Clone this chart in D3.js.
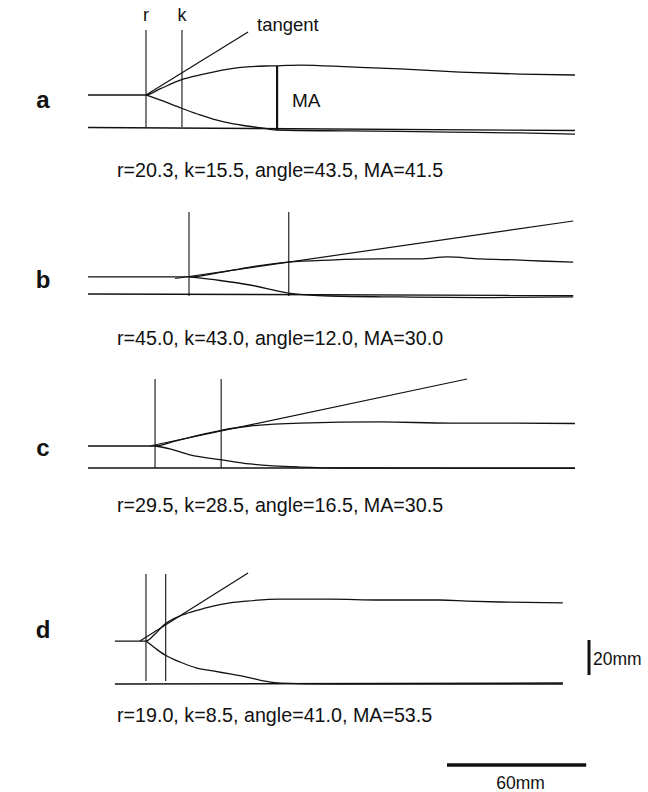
<!DOCTYPE html>
<html>
<head>
<meta charset="utf-8">
<script src="https://cdn.jsdelivr.net/npm/d3@7"></script>
<style>
  html, body { margin: 0; padding: 0; background: #fff; }
  svg { display: block; }
  text { font-family: "Liberation Sans", Arial, Helvetica, sans-serif; fill: #111; }
</style>
</head>
<body>
<svg id="chart" width="648" height="792"></svg>
<script>
// ---------------- DATA (time in mm of chart paper, amplitude in mm above baseline) ----------------
const panelNames = ["a", "b", "c", "d"];
const rValues = [20.3, 45.0, 29.5, 19.0];
const kValues = [15.5, 43.0, 28.5, 8.5];
const angleValues = [43.5, 12.0, 16.5, 41.0];
const maValues = [41.5, 30.0, 30.5, 53.5];

const upperA = [[-4.7,21.3],[20.3,21.3],[26.3,25.2],[35.4,31.0],[43.6,34.2],[49.2,36.1],[56.5,38.1],[63.8,39.4],[71.6,40.0],[76.8,40.1],[86.7,40.6],[108.2,39.4],[129.8,38.1],[155.6,36.1],[181.5,34.8],[205.2,34.2]];
const lowerA = [[20.3,21.3],[26.3,18.1],[35.4,12.9],[43.6,8.4],[49.2,5.8],[56.5,3.2],[63.8,1.3],[71.6,-0.3],[76.8,-1.3],[108.2,-1.9],[151.3,-2.6],[181.5,-3.2],[205.2,-3.9]];
const baseA = [[-4.7,0.3],[205.2,-1.6]];
const tangentA = [[20.3,21.3],[64.3,61.9]];

const upperB = [[1.5,11.0],[45.0,11.0],[58.4,13.9],[71.3,17.4],[87.8,20.6],[105.8,21.9],[127.4,22.6],[144.6,22.6],[156.3,23.9],[170.5,22.6],[187.8,21.9],[196.4,21.3],[210.6,20.6]];
const lowerB = [[45.0,11.0],[58.4,8.7],[71.3,5.8],[87.8,0.6],[105.8,-1.3],[136.0,-1.9],[170.5,-2.3],[210.6,-1.9]];
const baseB = [[1.5,0],[210.6,-1.0]];
const tangentB = [[39.0,10.0],[210.6,47.1]];

const upperC = [[0.6,14.2],[29.5,14.2],[38.1,17.4],[48.9,21.3],[58.4,24.5],[70.4,27.1],[92.0,29.0],[126.5,29.7],[156.6,29.0],[178.2,29.0],[210.5,28.7]];
const lowerC = [[29.5,14.2],[35.9,12.3],[44.6,8.4],[58.4,5.2],[70.4,2.6],[92.0,0.6],[113.5,0],[210.5,-0.3]];
const baseC = [[0.6,0],[210.5,0]];
const tangentC = [[27.3,14.2],[164.0,57.4]];

const upperD = [[5.6,27.7],[19.0,27.7],[22.9,32.3],[27.2,38.7],[33.7,43.9],[40.1,47.1],[47.9,50.3],[55.2,52.3],[62.5,53.5],[76.8,54.8],[98.3,54.8],[119.9,54.2],[145.7,54.2],[157.4,53.5],[171.6,52.9],[198.7,52.3]];
const lowerD = [[19.0,27.7],[22.9,23.2],[27.2,18.7],[33.7,14.2],[41.0,10.3],[47.9,8.4],[55.2,6.5],[62.5,4.5],[70.3,1.9],[76.8,0.6],[98.3,0],[198.7,0]];
const baseD = [[5.6,0],[198.7,0.6]];
const tangentD = [[16.4,27.7],[63.0,71.6]];

const maPosition = 76.8;          // time (mm) at which MA is marked in panel a
const scaleBarX = 60;             // mm
const scaleBarY = 20;             // mm

const upperSeries = [upperA, upperB, upperC, upperD];
const lowerSeries = [lowerA, lowerB, lowerC, lowerD];
const baseSeries = [baseA, baseB, baseC, baseD];
const tangentSeries = [tangentA, tangentB, tangentC, tangentD];

// ---------------- LAYOUT ----------------
const pxPerMmX = 2.32, pxPerMmY = 1.55, barPxPerMmY = 1.75;
const originX = [98.9, 84.6, 86.6, 101.9];
const baseY = [128, 294, 468, 684];
const markerTop = [30, 212, 379, 574];
const markerBottom = [127, 296, 468, 681];
const labelY = [108, 288, 456, 638];
const captionY = [177, 345, 512, 722];

const svg = d3.select("#chart");

panelNames.forEach((name, i) => {
  const x = d3.scaleLinear().domain([0, 100]).range([originX[i], originX[i] + 100 * pxPerMmX]);
  const y = d3.scaleLinear().domain([0, 100]).range([baseY[i], baseY[i] - 100 * pxPerMmY]);
  const line = d3.line().x(d => x(d[0])).y(d => y(d[1])).curve(d3.curveMonotoneX);
  const straight = d3.line().x(d => x(d[0])).y(d => y(d[1]));
  const g = svg.append("g");

  g.append("path").attr("d", straight(baseSeries[i]))
    .attr("fill", "none").attr("stroke", "#111").attr("stroke-width", 1.4);
  g.append("path").attr("d", line(upperSeries[i]))
    .attr("fill", "none").attr("stroke", "#111").attr("stroke-width", 1.3);
  g.append("path").attr("d", line(lowerSeries[i]))
    .attr("fill", "none").attr("stroke", "#111").attr("stroke-width", 1.3);
  g.append("path").attr("d", straight(tangentSeries[i]))
    .attr("fill", "none").attr("stroke", "#111").attr("stroke-width", 1.2);

  const rx = x(rValues[i]);
  const kx = x(rValues[i] + kValues[i]);
  [rx, kx].forEach(px => {
    g.append("line").attr("x1", px).attr("x2", px)
      .attr("y1", markerTop[i]).attr("y2", markerBottom[i])
      .attr("stroke", "#111").attr("stroke-width", 1.1);
  });

  g.append("text").attr("x", 43).attr("y", labelY[i]).attr("text-anchor", "middle")
    .attr("font-size", 24).attr("font-weight", "bold").text(name);

  g.append("text").attr("x", 117).attr("y", captionY[i]).attr("font-size", 19.7)
    .text(`r=${rValues[i].toFixed(1)}, k=${kValues[i].toFixed(1)}, angle=${angleValues[i].toFixed(1)}, MA=${maValues[i].toFixed(1)}`);

  if (i === 0) {
    g.append("text").attr("x", rx).attr("y", 21).attr("text-anchor", "middle").attr("font-size", 18).text("r");
    g.append("text").attr("x", kx).attr("y", 21).attr("text-anchor", "middle").attr("font-size", 18).text("k");
    g.append("text").attr("x", 257).attr("y", 31).attr("font-size", 18.5).text("tangent");
    const top = upperA.find(d => d[0] === maPosition)[1];
    g.append("line").attr("x1", x(maPosition)).attr("x2", x(maPosition))
      .attr("y1", y(top)).attr("y2", y(top - maValues[0]))
      .attr("stroke", "#111").attr("stroke-width", 2.2);
    g.append("text").attr("x", 292).attr("y", 107).attr("font-size", 19).text("MA");
  }
});

// scale bars
const sx = d3.scaleLinear().domain([0, scaleBarX]).range([0, scaleBarX * pxPerMmX]);
const sy = d3.scaleLinear().domain([0, scaleBarY]).range([0, scaleBarY * barPxPerMmY]);
svg.append("line").attr("x1", 589).attr("x2", 589).attr("y1", 640).attr("y2", 640 + sy(scaleBarY))
  .attr("stroke", "#111").attr("stroke-width", 3);
svg.append("text").attr("x", 593).attr("y", 665).attr("font-size", 17.5).text(`${scaleBarY}mm`);
svg.append("line").attr("x1", 447).attr("x2", 447 + sx(scaleBarX)).attr("y1", 765).attr("y2", 765)
  .attr("stroke", "#111").attr("stroke-width", 3.5);
svg.append("text").attr("x", 447 + sx(scaleBarX) / 2 + 4).attr("y", 789).attr("text-anchor", "middle")
  .attr("font-size", 17.5).text(`${scaleBarX}mm`);
</script>
</body>
</html>
